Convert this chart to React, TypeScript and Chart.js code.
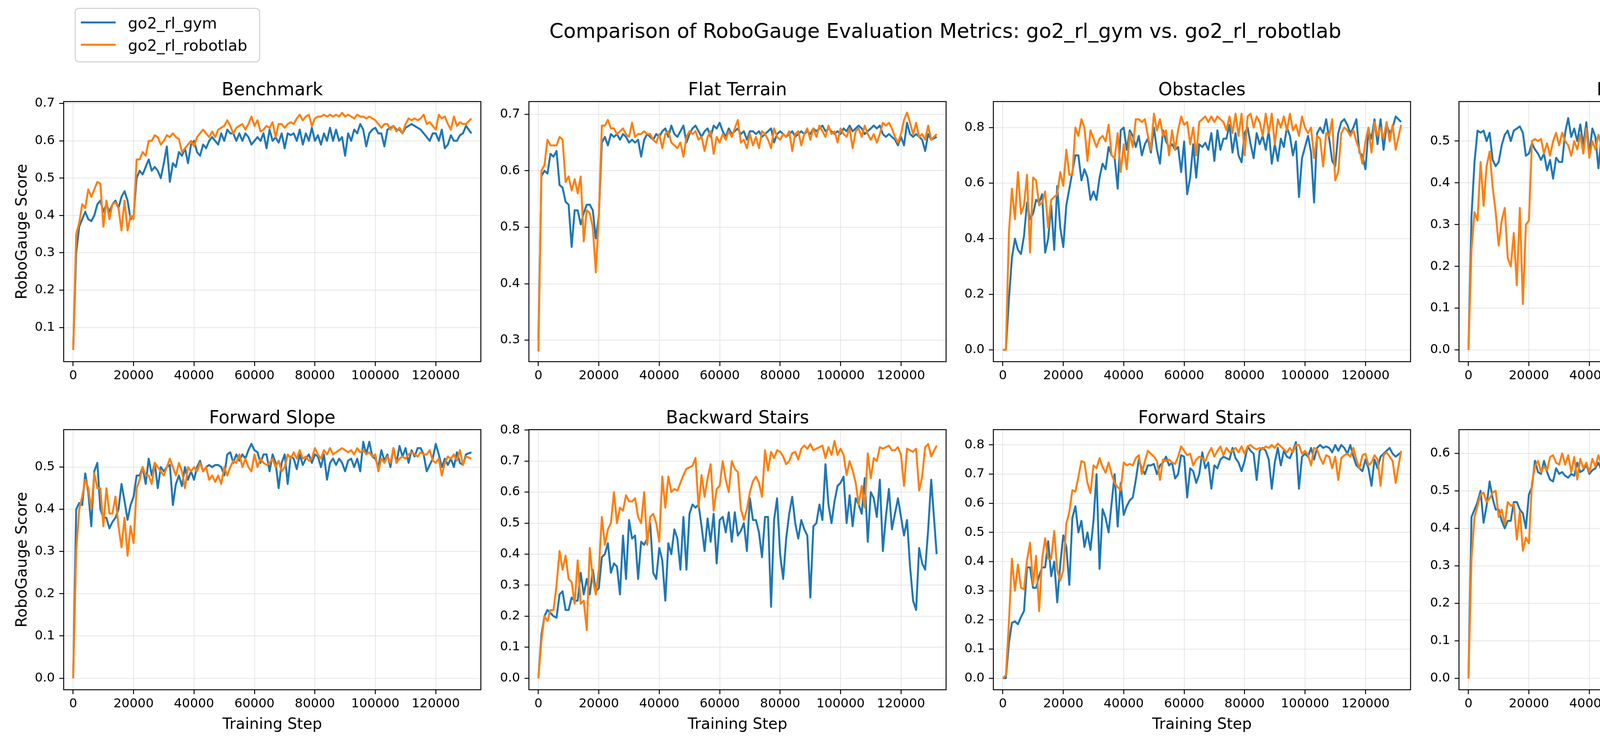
import React, { useEffect, useRef } from 'react';
import { Chart, registerables } from 'chart.js';

Chart.register(...registerables);

// ---------------- data ----------------
// evaluation steps (every 1000 training steps, last evaluation at 131800)
const STEPS = [...Array.from({ length: 131 }, (_, i) => i * 1000), 131800];

const X_TICKS = [0, 20000, 40000, 60000, 80000, 100000, 120000];

const BENCH_GYM = [
  0.04, 0.30, 0.37, 0.39, 0.41, 0.39, 0.385, 0.40, 0.43, 0.44,
  0.41, 0.43, 0.41, 0.43, 0.44, 0.42, 0.45, 0.465, 0.44, 0.39,
  0.40, 0.50, 0.52, 0.51, 0.53, 0.55, 0.52, 0.53, 0.52, 0.50,
  0.54, 0.585, 0.49, 0.54, 0.53, 0.57, 0.56, 0.58, 0.54, 0.59,
  0.60, 0.57, 0.56, 0.59, 0.58, 0.60, 0.61, 0.60, 0.59, 0.62,
  0.60, 0.63, 0.62, 0.62, 0.60, 0.62, 0.60, 0.62, 0.61, 0.59,
  0.60, 0.61, 0.60, 0.62, 0.58, 0.63, 0.60, 0.61, 0.595, 0.62,
  0.58, 0.62, 0.615, 0.62, 0.60, 0.63, 0.59, 0.62, 0.60, 0.635,
  0.60, 0.615, 0.59, 0.62, 0.60, 0.635, 0.60, 0.63, 0.60, 0.61,
  0.56, 0.62, 0.60, 0.63, 0.62, 0.645, 0.63, 0.585, 0.62, 0.63,
  0.635, 0.62, 0.62, 0.585, 0.63, 0.635, 0.64, 0.63, 0.63, 0.62,
  0.635, 0.64, 0.645, 0.64, 0.635, 0.63, 0.62, 0.61, 0.60, 0.62,
  0.62, 0.60, 0.63, 0.58, 0.59, 0.615, 0.60, 0.60, 0.615, 0.62,
  0.64, 0.62,
];
const BENCH_LAB = [
  0.04, 0.35, 0.38, 0.43, 0.42, 0.47, 0.45, 0.47, 0.49, 0.485,
  0.37, 0.44, 0.39, 0.43, 0.435, 0.42, 0.36, 0.44, 0.36, 0.40,
  0.39, 0.55, 0.55, 0.57, 0.56, 0.60, 0.60, 0.615, 0.61, 0.59,
  0.60, 0.615, 0.61, 0.62, 0.61, 0.605, 0.57, 0.58, 0.59, 0.60,
  0.585, 0.61, 0.62, 0.63, 0.62, 0.61, 0.625, 0.61, 0.63, 0.635,
  0.64, 0.655, 0.64, 0.62, 0.635, 0.64, 0.645, 0.63, 0.645, 0.665,
  0.64, 0.655, 0.625, 0.63, 0.64, 0.635, 0.65, 0.61, 0.645, 0.645,
  0.635, 0.645, 0.65, 0.645, 0.66, 0.67, 0.655, 0.665, 0.67, 0.64,
  0.66, 0.665, 0.665, 0.67, 0.665, 0.67, 0.665, 0.67, 0.665, 0.675,
  0.665, 0.67, 0.665, 0.66, 0.67, 0.665, 0.665, 0.66, 0.665, 0.66,
  0.655, 0.645, 0.635, 0.645, 0.645, 0.63, 0.64, 0.625, 0.635, 0.62,
  0.645, 0.66, 0.655, 0.66, 0.655, 0.66, 0.67, 0.645, 0.65, 0.64,
  0.63, 0.67, 0.66, 0.665, 0.645, 0.63, 0.665, 0.64, 0.65, 0.645,
  0.645, 0.66,
];

const FLAT_GYM = [
  0.30, 0.59, 0.60, 0.595, 0.63, 0.625, 0.635, 0.575, 0.57, 0.545,
  0.54, 0.465, 0.53, 0.53, 0.505, 0.525, 0.54, 0.54, 0.53, 0.48,
  0.52, 0.65, 0.66, 0.645, 0.665, 0.66, 0.665, 0.655, 0.665, 0.66,
  0.65, 0.655, 0.65, 0.655, 0.625, 0.655, 0.665, 0.66, 0.655, 0.665,
  0.66, 0.67, 0.675, 0.66, 0.68, 0.665, 0.66, 0.67, 0.68, 0.65,
  0.665, 0.675, 0.68, 0.67, 0.66, 0.67, 0.675, 0.66, 0.68, 0.675,
  0.685, 0.67, 0.66, 0.675, 0.665, 0.67, 0.675, 0.665, 0.67, 0.655,
  0.67, 0.67, 0.665, 0.67, 0.66, 0.665, 0.67, 0.675, 0.65, 0.665,
  0.67, 0.665, 0.66, 0.665, 0.67, 0.66, 0.665, 0.67, 0.665, 0.67,
  0.665, 0.675, 0.67, 0.675, 0.68, 0.67, 0.675, 0.67, 0.665, 0.67,
  0.665, 0.675, 0.67, 0.68, 0.67, 0.675, 0.68, 0.675, 0.665, 0.67,
  0.675, 0.68, 0.675, 0.68, 0.665, 0.66, 0.665, 0.66, 0.655, 0.645,
  0.66, 0.645, 0.685, 0.665, 0.66, 0.665, 0.66, 0.655, 0.635, 0.665,
  0.655, 0.66,
];
const FLAT_LAB = [
  0.28, 0.60, 0.61, 0.655, 0.645, 0.645, 0.645, 0.66, 0.655, 0.58,
  0.59, 0.565, 0.585, 0.56, 0.59, 0.475, 0.53, 0.525, 0.50, 0.42,
  0.52, 0.68, 0.68, 0.69, 0.675, 0.675, 0.665, 0.67, 0.675, 0.665,
  0.66, 0.685, 0.66, 0.665, 0.665, 0.67, 0.665, 0.665, 0.655, 0.65,
  0.665, 0.64, 0.665, 0.67, 0.65, 0.645, 0.64, 0.65, 0.625, 0.66,
  0.67, 0.665, 0.67, 0.655, 0.66, 0.635, 0.66, 0.67, 0.63, 0.66,
  0.65, 0.665, 0.655, 0.67, 0.66, 0.675, 0.69, 0.65, 0.655, 0.64,
  0.665, 0.645, 0.66, 0.64, 0.67, 0.665, 0.655, 0.64, 0.675, 0.66,
  0.655, 0.665, 0.66, 0.67, 0.635, 0.665, 0.67, 0.645, 0.665, 0.675,
  0.655, 0.675, 0.66, 0.68, 0.67, 0.66, 0.68, 0.665, 0.67, 0.65,
  0.675, 0.665, 0.66, 0.675, 0.64, 0.67, 0.675, 0.66, 0.68, 0.665,
  0.655, 0.665, 0.65, 0.665, 0.685, 0.68, 0.685, 0.675, 0.66, 0.65,
  0.665, 0.69, 0.703, 0.685, 0.665, 0.685, 0.66, 0.665, 0.655, 0.68,
  0.655, 0.665,
];

const OBST_GYM = [
  0.0, 0.0, 0.18, 0.33, 0.40, 0.36, 0.345, 0.41, 0.53, 0.47,
  0.49, 0.54, 0.53, 0.56, 0.35, 0.40, 0.52, 0.36, 0.59, 0.44,
  0.37, 0.52, 0.58, 0.64, 0.70, 0.70, 0.61, 0.65, 0.62, 0.54,
  0.57, 0.54, 0.62, 0.67, 0.65, 0.73, 0.70, 0.69, 0.58, 0.79,
  0.80, 0.72, 0.79, 0.77, 0.73, 0.77, 0.70, 0.74, 0.76, 0.71,
  0.80, 0.72, 0.67, 0.79, 0.75, 0.73, 0.74, 0.72, 0.73, 0.64,
  0.75, 0.56, 0.62, 0.74, 0.62, 0.74, 0.73, 0.745, 0.72, 0.78,
  0.68, 0.79, 0.72, 0.76, 0.76, 0.81, 0.71, 0.78, 0.70, 0.675,
  0.78, 0.80, 0.74, 0.69, 0.78, 0.74, 0.77, 0.72, 0.79, 0.67,
  0.74, 0.68, 0.76, 0.73, 0.80, 0.77, 0.70, 0.75, 0.55, 0.69,
  0.73, 0.77, 0.71, 0.53, 0.78, 0.80, 0.78, 0.83, 0.76, 0.68,
  0.66, 0.78, 0.82, 0.83, 0.81, 0.78, 0.80, 0.83, 0.71, 0.70,
  0.65, 0.79, 0.76, 0.83, 0.74, 0.83, 0.72, 0.81, 0.78, 0.80,
  0.84, 0.82,
];
const OBST_LAB = [
  0.0, 0.0, 0.42, 0.58, 0.47, 0.64, 0.49, 0.52, 0.63, 0.35,
  0.62, 0.61, 0.52, 0.53, 0.57, 0.44, 0.54, 0.55, 0.56, 0.64,
  0.59, 0.72, 0.63, 0.63, 0.80, 0.77, 0.83, 0.80, 0.68, 0.79,
  0.76, 0.73, 0.76, 0.77, 0.75, 0.81, 0.70, 0.69, 0.78, 0.64,
  0.74, 0.65, 0.78, 0.73, 0.83, 0.83, 0.82, 0.83, 0.77, 0.72,
  0.85, 0.79, 0.83, 0.77, 0.79, 0.70, 0.79, 0.72, 0.79, 0.84,
  0.81, 0.82, 0.74, 0.80, 0.70, 0.82, 0.83, 0.84, 0.82, 0.84,
  0.82, 0.84, 0.83, 0.82, 0.79, 0.84, 0.78, 0.85, 0.77, 0.85,
  0.70, 0.84, 0.85, 0.80, 0.84, 0.82, 0.77, 0.85, 0.78, 0.85,
  0.74, 0.83, 0.80, 0.84, 0.79, 0.85, 0.79, 0.81, 0.77, 0.84,
  0.80, 0.78, 0.80, 0.69, 0.77, 0.76, 0.66, 0.78, 0.77, 0.83,
  0.61, 0.64, 0.78, 0.80, 0.79, 0.77, 0.79, 0.75, 0.72, 0.67,
  0.75, 0.80, 0.71, 0.82, 0.77, 0.80, 0.76, 0.82, 0.75, 0.81,
  0.72, 0.81,
];

const BSLOPE_GYM = [
  0.0, 0.32, 0.45, 0.525, 0.52, 0.525, 0.50, 0.52, 0.455, 0.44,
  0.45, 0.49, 0.515, 0.525, 0.50, 0.525, 0.53, 0.535, 0.52, 0.465,
  0.47, 0.495, 0.48, 0.47, 0.455, 0.47, 0.43, 0.455, 0.41, 0.46,
  0.45, 0.45, 0.52, 0.555, 0.51, 0.53, 0.50, 0.54, 0.49, 0.545,
  0.47, 0.53, 0.51, 0.435, 0.51, 0.54, 0.495, 0.53, 0.52, 0.50,
  0.535, 0.54, 0.555, 0.53, 0.56, 0.51, 0.55, 0.535, 0.52, 0.495,
  0.545, 0.56, 0.555, 0.545, 0.52, 0.545, 0.555, 0.485, 0.56, 0.545,
  0.555, 0.53, 0.535, 0.52, 0.51, 0.535, 0.50, 0.53, 0.525, 0.505,
  0.52, 0.515, 0.535, 0.49, 0.535, 0.53, 0.515, 0.54, 0.53, 0.545,
  0.50, 0.525, 0.55, 0.505, 0.525, 0.53, 0.55, 0.52, 0.545, 0.555,
  0.54, 0.55, 0.56, 0.55, 0.53, 0.535, 0.54, 0.53, 0.555, 0.52,
  0.55, 0.535, 0.53, 0.555, 0.545, 0.52, 0.555, 0.49, 0.535, 0.55,
  0.54, 0.555, 0.55, 0.565, 0.54, 0.525, 0.46, 0.50, 0.475, 0.525,
  0.53, 0.565,
];
const BSLOPE_LAB = [
  0.0, 0.24, 0.33, 0.31, 0.45, 0.345, 0.44, 0.475, 0.39, 0.33,
  0.25, 0.31, 0.34, 0.22, 0.20, 0.28, 0.155, 0.34, 0.11, 0.30,
  0.31, 0.50, 0.505, 0.50, 0.505, 0.47, 0.495, 0.465, 0.50, 0.52,
  0.49, 0.52, 0.50, 0.49, 0.465, 0.50, 0.48, 0.515, 0.47, 0.53,
  0.46, 0.50, 0.48, 0.515, 0.49, 0.51, 0.51, 0.515, 0.52, 0.495,
  0.525, 0.48, 0.545, 0.54, 0.525, 0.51, 0.535, 0.525, 0.545, 0.53,
  0.56, 0.53, 0.535, 0.525, 0.545, 0.52, 0.525, 0.495, 0.52, 0.53,
  0.505, 0.53, 0.50, 0.545, 0.535, 0.54, 0.525, 0.535, 0.53, 0.51,
  0.525, 0.52, 0.53, 0.53, 0.525, 0.525, 0.51, 0.52, 0.525, 0.53,
  0.51, 0.51, 0.505, 0.51, 0.52, 0.515, 0.53, 0.51, 0.525, 0.53,
  0.52, 0.525, 0.53, 0.52, 0.515, 0.52, 0.50, 0.485, 0.52, 0.475,
  0.56, 0.545, 0.54, 0.565, 0.535, 0.53, 0.56, 0.535, 0.53, 0.545,
  0.53, 0.555, 0.54, 0.56, 0.535, 0.54, 0.50, 0.545, 0.53, 0.52,
  0.55, 0.53,
];

const FSLOPE_GYM = [
  0.0, 0.40, 0.415, 0.41, 0.485, 0.44, 0.36, 0.49, 0.51, 0.40,
  0.38, 0.38, 0.355, 0.37, 0.38, 0.40, 0.46, 0.42, 0.375, 0.41,
  0.43, 0.48, 0.48, 0.50, 0.46, 0.52, 0.48, 0.51, 0.45, 0.50,
  0.49, 0.50, 0.505, 0.41, 0.46, 0.48, 0.455, 0.50, 0.47, 0.49,
  0.47, 0.50, 0.515, 0.49, 0.50, 0.505, 0.50, 0.505, 0.505, 0.50,
  0.48, 0.53, 0.535, 0.51, 0.53, 0.515, 0.53, 0.52, 0.54, 0.555,
  0.54, 0.535, 0.51, 0.53, 0.53, 0.49, 0.53, 0.51, 0.45, 0.51,
  0.53, 0.46, 0.525, 0.52, 0.495, 0.53, 0.505, 0.52, 0.53, 0.51,
  0.53, 0.525, 0.50, 0.53, 0.47, 0.51, 0.52, 0.505, 0.52, 0.51,
  0.49, 0.515, 0.52, 0.50, 0.52, 0.49, 0.56, 0.53, 0.56, 0.525,
  0.52, 0.50, 0.54, 0.515, 0.53, 0.50, 0.545, 0.51, 0.55, 0.525,
  0.545, 0.51, 0.54, 0.525, 0.545, 0.545, 0.53, 0.49, 0.505, 0.52,
  0.555, 0.53, 0.50, 0.52, 0.505, 0.52, 0.50, 0.535, 0.51, 0.505,
  0.53, 0.535,
];
const FSLOPE_LAB = [
  0.0, 0.30, 0.40, 0.43, 0.47, 0.45, 0.40, 0.485, 0.45, 0.45,
  0.36, 0.45, 0.39, 0.39, 0.43, 0.36, 0.31, 0.38, 0.29, 0.36,
  0.32, 0.45, 0.47, 0.50, 0.48, 0.48, 0.46, 0.51, 0.50, 0.49,
  0.48, 0.50, 0.52, 0.50, 0.48, 0.51, 0.49, 0.45, 0.50, 0.49,
  0.50, 0.49, 0.51, 0.49, 0.50, 0.47, 0.48, 0.465, 0.48, 0.46,
  0.50, 0.48, 0.50, 0.515, 0.51, 0.53, 0.50, 0.52, 0.50, 0.49,
  0.53, 0.50, 0.52, 0.51, 0.505, 0.51, 0.52, 0.50, 0.515, 0.49,
  0.50, 0.53, 0.52, 0.535, 0.52, 0.54, 0.52, 0.525, 0.515, 0.52,
  0.545, 0.53, 0.52, 0.54, 0.53, 0.545, 0.53, 0.535, 0.54, 0.545,
  0.54, 0.535, 0.54, 0.53, 0.545, 0.535, 0.54, 0.53, 0.535, 0.525,
  0.53, 0.49, 0.52, 0.51, 0.525, 0.51, 0.545, 0.51, 0.52, 0.525,
  0.52, 0.53, 0.535, 0.53, 0.525, 0.535, 0.53, 0.53, 0.54, 0.515,
  0.51, 0.52, 0.48, 0.51, 0.525, 0.52, 0.53, 0.515, 0.54, 0.505,
  0.525, 0.52,
];

const BSTAIRS_GYM = [
  0.0, 0.14, 0.20, 0.22, 0.21, 0.20, 0.195, 0.27, 0.28, 0.22,
  0.22, 0.26, 0.25, 0.25, 0.34, 0.27, 0.32, 0.27, 0.35, 0.28,
  0.29, 0.39, 0.40, 0.435, 0.34, 0.37, 0.36, 0.27, 0.46, 0.32,
  0.51, 0.45, 0.46, 0.32, 0.44, 0.43, 0.45, 0.50, 0.34, 0.32,
  0.42, 0.38, 0.25, 0.435, 0.40, 0.48, 0.45, 0.35, 0.52, 0.35,
  0.53, 0.56, 0.55, 0.56, 0.49, 0.41, 0.515, 0.44, 0.53, 0.37,
  0.51, 0.52, 0.47, 0.535, 0.44, 0.535, 0.46, 0.475, 0.50, 0.41,
  0.58, 0.51, 0.51, 0.47, 0.39, 0.52, 0.52, 0.23, 0.51, 0.58,
  0.40, 0.32, 0.45, 0.53, 0.585, 0.50, 0.45, 0.51, 0.48, 0.46,
  0.26, 0.49, 0.50, 0.56, 0.51, 0.69, 0.56, 0.50, 0.57, 0.62,
  0.63, 0.65, 0.50, 0.59, 0.49, 0.58, 0.56, 0.53, 0.645, 0.44,
  0.60, 0.58, 0.52, 0.64, 0.41, 0.52, 0.61, 0.48, 0.53, 0.58,
  0.52, 0.46, 0.51, 0.36, 0.25, 0.22, 0.42, 0.37, 0.35, 0.48,
  0.64, 0.40,
];
const BSTAIRS_LAB = [
  0.0, 0.12, 0.20, 0.185, 0.22, 0.22, 0.30, 0.41, 0.35, 0.395,
  0.32, 0.31, 0.24, 0.38, 0.24, 0.25, 0.155, 0.42, 0.32, 0.27,
  0.35, 0.52, 0.43, 0.48, 0.50, 0.60, 0.50, 0.55, 0.54, 0.59,
  0.57, 0.57, 0.58, 0.52, 0.50, 0.60, 0.43, 0.52, 0.53, 0.50,
  0.44, 0.65, 0.55, 0.65, 0.60, 0.61, 0.605, 0.63, 0.655, 0.675,
  0.68, 0.685, 0.71, 0.55, 0.655, 0.585, 0.645, 0.69, 0.54, 0.61,
  0.62, 0.70, 0.64, 0.60, 0.70, 0.675, 0.665, 0.545, 0.51, 0.545,
  0.60, 0.635, 0.65, 0.63, 0.585, 0.735, 0.67, 0.73, 0.71, 0.735,
  0.73, 0.715, 0.69, 0.70, 0.725, 0.73, 0.705, 0.74, 0.75, 0.74,
  0.755, 0.735, 0.74, 0.745, 0.75, 0.71, 0.745, 0.72, 0.765, 0.72,
  0.74, 0.72, 0.655, 0.70, 0.67, 0.63, 0.56, 0.62, 0.55, 0.725,
  0.645, 0.71, 0.70, 0.745, 0.74, 0.745, 0.75, 0.735, 0.735, 0.745,
  0.72, 0.62, 0.74, 0.735, 0.73, 0.74, 0.605, 0.65, 0.745, 0.755,
  0.715, 0.75,
];

const FSTAIRS_GYM = [
  0.0, 0.0, 0.12, 0.19, 0.195, 0.185, 0.21, 0.23, 0.38, 0.38,
  0.31, 0.31, 0.35, 0.38, 0.38, 0.47, 0.35, 0.40, 0.26, 0.39,
  0.49, 0.45, 0.32, 0.55, 0.59, 0.50, 0.54, 0.45, 0.50, 0.44,
  0.54, 0.70, 0.375, 0.58, 0.55, 0.50, 0.60, 0.70, 0.52, 0.67,
  0.56, 0.59, 0.61, 0.62, 0.68, 0.75, 0.72, 0.70, 0.73, 0.73,
  0.735, 0.70, 0.73, 0.74, 0.76, 0.73, 0.74, 0.685, 0.70, 0.765,
  0.76, 0.62, 0.72, 0.71, 0.67, 0.70, 0.775, 0.72, 0.74, 0.65,
  0.73, 0.72, 0.75, 0.76, 0.755, 0.75, 0.79, 0.755, 0.74, 0.71,
  0.745, 0.795, 0.78, 0.77, 0.68, 0.78, 0.79, 0.78, 0.75, 0.65,
  0.74, 0.79, 0.73, 0.78, 0.76, 0.755, 0.78, 0.81, 0.65, 0.76,
  0.77, 0.76, 0.79, 0.75, 0.79, 0.80, 0.79, 0.795, 0.79, 0.775,
  0.80, 0.78, 0.80, 0.79, 0.77, 0.80, 0.76, 0.73, 0.72, 0.71,
  0.75, 0.72, 0.66, 0.75, 0.72, 0.76, 0.77, 0.78, 0.79, 0.77,
  0.76, 0.775,
];
const FSTAIRS_LAB = [
  0.0, 0.01, 0.19, 0.41, 0.30, 0.39, 0.31, 0.305, 0.405, 0.465,
  0.32, 0.42, 0.23, 0.41, 0.48, 0.41, 0.41, 0.505, 0.37, 0.335,
  0.37, 0.53, 0.57, 0.645, 0.64, 0.69, 0.745, 0.74, 0.67, 0.635,
  0.73, 0.72, 0.755, 0.725, 0.705, 0.74, 0.70, 0.67, 0.655, 0.645,
  0.74, 0.73, 0.735, 0.73, 0.755, 0.765, 0.70, 0.745, 0.78, 0.77,
  0.76, 0.745, 0.68, 0.75, 0.745, 0.75, 0.74, 0.735, 0.76, 0.795,
  0.78, 0.765, 0.77, 0.73, 0.75, 0.76, 0.755, 0.745, 0.77, 0.79,
  0.76, 0.78, 0.795, 0.765, 0.79, 0.775, 0.78, 0.79, 0.775, 0.795,
  0.77, 0.795, 0.80, 0.79, 0.785, 0.79, 0.785, 0.795, 0.79, 0.80,
  0.79, 0.805, 0.795, 0.785, 0.775, 0.79, 0.775, 0.80, 0.80, 0.77,
  0.78, 0.765, 0.73, 0.79, 0.785, 0.755, 0.735, 0.765, 0.76, 0.72,
  0.76, 0.68, 0.755, 0.765, 0.77, 0.76, 0.79, 0.75, 0.72, 0.765,
  0.77, 0.73, 0.74, 0.765, 0.75, 0.66, 0.765, 0.775, 0.76, 0.745,
  0.67, 0.78,
];

const WAVE_GYM = [
  0.0, 0.43, 0.45, 0.47, 0.50, 0.415, 0.46, 0.525, 0.48, 0.45,
  0.45, 0.42, 0.40, 0.42, 0.42, 0.47, 0.47, 0.45, 0.44, 0.40,
  0.49, 0.51, 0.58, 0.55, 0.545, 0.58, 0.55, 0.53, 0.525, 0.56,
  0.545, 0.55, 0.54, 0.535, 0.545, 0.54, 0.575, 0.55, 0.555, 0.57,
  0.545, 0.555, 0.56, 0.575, 0.555, 0.57, 0.545, 0.585, 0.545, 0.55,
  0.56, 0.575, 0.59, 0.585, 0.59, 0.58, 0.59, 0.585, 0.59, 0.595,
  0.605, 0.595, 0.585, 0.575, 0.545, 0.585, 0.59, 0.585, 0.565, 0.575,
  0.58, 0.545, 0.585, 0.59, 0.585, 0.56, 0.585, 0.615, 0.58, 0.59,
  0.585, 0.58, 0.585, 0.56, 0.575, 0.55, 0.58, 0.575, 0.575, 0.58,
  0.57, 0.585, 0.575, 0.57, 0.58, 0.56, 0.585, 0.59, 0.585, 0.595,
  0.58, 0.55, 0.58, 0.595, 0.59, 0.58, 0.585, 0.585, 0.58, 0.59,
  0.585, 0.575, 0.59, 0.585, 0.575, 0.59, 0.58, 0.575, 0.59, 0.59,
  0.585, 0.58, 0.565, 0.59, 0.575, 0.585, 0.60, 0.58, 0.60, 0.575,
  0.58, 0.585,
];
const WAVE_LAB = [
  0.0, 0.32, 0.43, 0.46, 0.49, 0.495, 0.47, 0.48, 0.495, 0.50,
  0.43, 0.45, 0.41, 0.47, 0.46, 0.465, 0.37, 0.445, 0.34, 0.375,
  0.36, 0.52, 0.565, 0.58, 0.55, 0.565, 0.555, 0.59, 0.595, 0.575,
  0.57, 0.60, 0.57, 0.595, 0.55, 0.59, 0.53, 0.585, 0.56, 0.575,
  0.55, 0.585, 0.565, 0.595, 0.57, 0.575, 0.52, 0.535, 0.52, 0.555,
  0.55, 0.57, 0.60, 0.59, 0.60, 0.615, 0.59, 0.59, 0.58, 0.595,
  0.585, 0.59, 0.60, 0.59, 0.63, 0.585, 0.60, 0.615, 0.59, 0.605,
  0.59, 0.615, 0.595, 0.60, 0.60, 0.60, 0.585, 0.60, 0.59, 0.585,
  0.59, 0.585, 0.595, 0.58, 0.59, 0.61, 0.585, 0.60, 0.59, 0.605,
  0.61, 0.595, 0.60, 0.565, 0.585, 0.575, 0.595, 0.585, 0.59, 0.585,
  0.59, 0.575, 0.56, 0.62, 0.585, 0.565, 0.595, 0.62, 0.59, 0.58,
  0.575, 0.585, 0.58, 0.575, 0.59, 0.60, 0.575, 0.585, 0.57, 0.575,
  0.56, 0.52, 0.59, 0.595, 0.58, 0.59, 0.545, 0.59, 0.565, 0.595,
  0.57, 0.565,
];

const Y_TICKS_BENCH = [0.1, 0.2, 0.3, 0.4, 0.5, 0.6, 0.7];
const Y_TICKS_FLAT = [0.3, 0.4, 0.5, 0.6, 0.7];
const Y_TICKS_OBST = [0.0, 0.2, 0.4, 0.6, 0.8];
const Y_TICKS_HALF = [0.0, 0.1, 0.2, 0.3, 0.4, 0.5];
const Y_TICKS_EIGHT = [0.0, 0.1, 0.2, 0.3, 0.4, 0.5, 0.6, 0.7, 0.8];
const Y_TICKS_SIX = [0.0, 0.1, 0.2, 0.3, 0.4, 0.5, 0.6];

const SERIES_NAMES = ['go2_rl_gym', 'go2_rl_robotlab'];
const SUPTITLE = 'Comparison of RoboGauge Evaluation Metrics: go2_rl_gym vs. go2_rl_robotlab';
const X_LABEL = 'Training Step';
const Y_LABEL = 'RoboGauge Score';

const PANELS = [
  { title: 'Benchmark', gym: BENCH_GYM, lab: BENCH_LAB, yMin: 0.0085, yMax: 0.7052, yTicks: Y_TICKS_BENCH },
  { title: 'Flat Terrain', gym: FLAT_GYM, lab: FLAT_LAB, yMin: 0.2619, yMax: 0.7226, yTicks: Y_TICKS_FLAT },
  { title: 'Obstacles', gym: OBST_GYM, lab: OBST_LAB, yMin: -0.0425, yMax: 0.8936, yTicks: Y_TICKS_OBST },
  { title: 'Backward Slope', gym: BSLOPE_GYM, lab: BSLOPE_LAB, yMin: -0.028, yMax: 0.5946, yTicks: Y_TICKS_HALF },
  { title: 'Forward Slope', gym: FSLOPE_GYM, lab: FSLOPE_LAB, yMin: -0.0274, yMax: 0.5887, yTicks: Y_TICKS_HALF },
  { title: 'Backward Stairs', gym: BSTAIRS_GYM, lab: BSTAIRS_LAB, yMin: -0.0373, yMax: 0.8015, yTicks: Y_TICKS_EIGHT },
  { title: 'Forward Stairs', gym: FSTAIRS_GYM, lab: FSTAIRS_LAB, yMin: -0.0397, yMax: 0.8527, yTicks: Y_TICKS_EIGHT },
  { title: 'Wave Terrain', gym: WAVE_GYM, lab: WAVE_LAB, yMin: -0.0308, yMax: 0.6632, yTicks: Y_TICKS_SIX },
];

// ---------------- style / layout ----------------
const FONT = '"DejaVu Sans", "Liberation Sans", sans-serif';
const BLUE = '#1f77b4';
const ORANGE = '#ff7f0e';
const X_MIN = -3140;
const X_MAX = 134925;
const COL_LEFT = [163, 1354, 2543, 3735];
const ROW_TOP = [260, 1100];
const PLOT_W = 1068;
const PLOT_H = 666;
const PAD_L = 163;
const PAD_R = 30;
const PAD_T = 150;
const PAD_B = 160;
const TICK_FONT = 32.4;
const TITLE_FONT = 45.5;
const LABEL_FONT = 39;
const LEGEND_FONT = 39.5;
const SUPTITLE_FONT = 51.8;
const LINE_W = 5;
const SPINE_W = 2.4;
const TICK_LEN = 11.3;

function decorPlugin(title: string, showX: boolean, showY: boolean) {
  return {
    id: 'decor',
    afterDraw(chart: any) {
      const { ctx, chartArea: a } = chart;
      ctx.save();
      ctx.strokeStyle = '#000';
      ctx.lineWidth = SPINE_W;
      ctx.strokeRect(a.left, a.top, a.right - a.left, a.bottom - a.top);
      ctx.fillStyle = '#000';
      ctx.textAlign = 'center';
      ctx.textBaseline = 'alphabetic';
      ctx.font = `${TITLE_FONT}px ${FONT}`;
      const cx = (a.left + a.right) / 2;
      ctx.fillText(title, cx, a.top - 16);
      ctx.font = `${LABEL_FONT}px ${FONT}`;
      if (showX) ctx.fillText(X_LABEL, cx, a.bottom + 100);
      if (showY) {
        ctx.translate(a.left - 95, (a.top + a.bottom) / 2);
        ctx.rotate(-Math.PI / 2);
        ctx.fillText(Y_LABEL, 0, 0);
      }
      ctx.restore();
    },
  };
}

function Panel({ idx }: { idx: number }) {
  const ref = useRef<HTMLCanvasElement>(null);
  const p = PANELS[idx];
  const col = idx % 4;
  const row = Math.floor(idx / 4);
  const w = PLOT_W + PAD_L + PAD_R;
  const h = PLOT_H + PAD_T + PAD_B;
  const left = COL_LEFT[col] - PAD_L;
  const top = ROW_TOP[row] - PAD_T;

  useEffect(() => {
    const gridCommon = {
      color: '#e2e2e2',
      lineWidth: 1.7,
      borderDash: [6.4, 3.2],
      drawTicks: true,
      tickLength: TICK_LEN,
      tickColor: '#000',
      tickWidth: SPINE_W,
      tickBorderDash: [],
      offset: false,
    };
    const chart = new Chart(ref.current as HTMLCanvasElement, {
      type: 'line',
      data: {
        datasets: [
          {
            label: SERIES_NAMES[0],
            data: STEPS.map((x, i) => ({ x, y: p.gym[i] })),
            borderColor: BLUE,
            backgroundColor: BLUE,
            borderWidth: LINE_W,
            pointRadius: 0,
            order: 2,
          },
          {
            label: SERIES_NAMES[1],
            data: STEPS.map((x, i) => ({ x, y: p.lab[i] })),
            borderColor: ORANGE,
            backgroundColor: ORANGE,
            borderWidth: LINE_W,
            pointRadius: 0,
            order: 1,
          },
        ],
      },
      options: {
        animation: false,
        responsive: false,
        maintainAspectRatio: false,
        devicePixelRatio: 1,
        events: [],
        layout: { padding: { left: 0, top: PAD_T, right: PAD_R, bottom: 0 } },
        elements: { line: { tension: 0, borderJoinStyle: 'round', borderCapStyle: 'butt' } },
        plugins: { legend: { display: false }, tooltip: { enabled: false }, title: { display: false } },
        scales: {
          x: {
            type: 'linear',
            min: X_MIN,
            max: X_MAX,
            afterBuildTicks: (s: any) => {
              s.ticks = X_TICKS.map((v) => ({ value: v }));
            },
            afterFit: (s: any) => {
              s.height = PAD_B;
            },
            ticks: {
              autoSkip: false,
              maxRotation: 0,
              minRotation: 0,
              padding: 5.5,
              color: '#000',
              font: { family: FONT, size: TICK_FONT },
              callback: (v: any) => String(v),
            },
            grid: gridCommon,
            border: { display: false },
          },
          y: {
            type: 'linear',
            min: p.yMin,
            max: p.yMax,
            afterBuildTicks: (s: any) => {
              s.ticks = p.yTicks.map((v) => ({ value: v }));
            },
            afterFit: (s: any) => {
              s.width = PAD_L;
            },
            ticks: {
              autoSkip: false,
              padding: 11.3,
              color: '#000',
              font: { family: FONT, size: TICK_FONT },
              callback: (v: any) => Number(v).toFixed(1),
            },
            grid: gridCommon,
            border: { display: false },
          },
        },
      } as any,
      plugins: [decorPlugin(p.title, row === 1, col === 0)],
    });
    return () => chart.destroy();
  }, []);

  return (
    <canvas
      ref={ref}
      width={w}
      height={h}
      style={{ position: 'absolute', left, top, width: w, height: h }}
    />
  );
}

function Legend() {
  const items = [
    { name: SERIES_NAMES[0], color: BLUE, y: 57 },
    { name: SERIES_NAMES[1], color: ORANGE, y: 114.5 },
  ];
  return (
    <div style={{ position: 'absolute', left: 0, top: 0, zIndex: 5 }}>
      <div
        style={{
          position: 'absolute',
          left: 191,
          top: 20,
          width: 475,
          height: 140,
          boxSizing: 'border-box',
          border: '3px solid #d6d6d6',
          borderRadius: 11,
          background: 'rgba(255,255,255,0.8)',
        }}
      />
      {items.map((it) => (
        <React.Fragment key={it.name}>
          <div
            style={{
              position: 'absolute',
              left: 207,
              top: it.y - LINE_W / 2,
              width: 89,
              height: LINE_W,
              background: it.color,
            }}
          />
          <div
            style={{
              position: 'absolute',
              left: 327.5,
              top: it.y - 17.4,
              fontFamily: FONT,
              fontSize: LEGEND_FONT,
              lineHeight: `${LEGEND_FONT}px`,
              whiteSpace: 'nowrap',
              color: '#000',
            }}
          >
            {it.name}
          </div>
        </React.Fragment>
      ))}
    </div>
  );
}

export default function App() {
  return (
    <div
      style={{
        position: 'absolute',
        left: 0,
        top: 0,
        width: 4840,
        height: 1910,
        background: '#fff',
        overflow: 'hidden',
      }}
    >
      <div
        style={{
          position: 'absolute',
          left: 0,
          top: 54,
          width: 4840,
          textAlign: 'center',
          fontFamily: FONT,
          fontSize: SUPTITLE_FONT,
          lineHeight: `${SUPTITLE_FONT}px`,
          whiteSpace: 'nowrap',
          color: '#000',
        }}
      >
        {SUPTITLE}
      </div>
      {PANELS.map((_, i) => (
        <Panel key={i} idx={i} />
      ))}
      <Legend />
    </div>
  );
}
